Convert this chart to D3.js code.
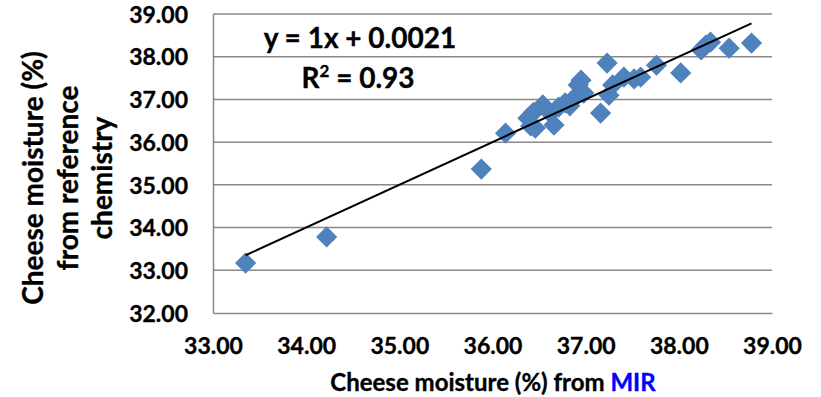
<!DOCTYPE html>
<html><head><meta charset="utf-8">
<script src="https://cdn.jsdelivr.net/npm/d3@7"></script>
<style>body{margin:0;background:#fff}svg{display:block}text{font-family:Lato,"Open Sans",sans-serif;font-weight:bold;fill:#000;stroke:#000;stroke-width:0.35px}</style>
</head><body><svg id="c" width="821" height="397"></svg>
<script>
const xMIR = [33.35,34.22,35.88,36.14,36.38,36.41,36.44,36.46,36.54,36.62,36.66,36.71,36.78,36.83,36.89,36.92,36.95,36.98,37.16,37.23,37.25,37.29,37.41,37.52,37.59,37.76,38.02,38.24,38.29,38.34,38.54,38.78];
const yRef = [33.17,33.78,35.37,36.21,36.56,36.38,36.70,36.33,36.87,36.68,36.40,36.82,36.92,36.85,37.06,37.34,37.45,37.15,36.68,37.85,37.10,37.34,37.52,37.48,37.52,37.80,37.62,38.16,38.27,38.34,38.20,38.32];
const xTicks = [33,34,35,36,37,38,39];
const yTicks = [32,33,34,35,36,37,38,39];
const slope = 1, intercept = 0.0021;
const eqText = "y = 1x + 0.0021";
const r2Value = "0.93";
const xTitle = "Cheese moisture (%) from ";
const xTitleBlue = "MIR";
const yTitleLines = ["Cheese moisture (%)","from reference","chemistry"];

const svg = d3.select("#c");
const L=213,R=772,T=14,B=313;
const x = d3.scaleLinear().domain([33,39]).range([L,R]);
const y = d3.scaleLinear().domain([32,39]).range([B,T]);

// gridlines
svg.append("g").selectAll("line").data(yTicks.slice(1)).join("line")
  .attr("x1",L).attr("x2",R).attr("y1",d=>y(d)).attr("y2",d=>y(d))
  .attr("stroke","#898989").attr("stroke-width",1.5);

// axes
const xa = svg.append("g").attr("transform",`translate(0,${B})`)
  .call(d3.axisBottom(x).tickValues(xTicks).tickFormat(d3.format(".2f")).tickSize(0));
const ya = svg.append("g").attr("transform",`translate(${L},0)`)
  .call(d3.axisLeft(y).tickValues(yTicks).tickFormat(d3.format(".2f")).tickSize(0).tickPadding(25));
[xa,ya].forEach(a=>{a.select(".domain").attr("stroke","#898989").attr("stroke-width",1.5);
  a.selectAll("text").attr("font-size",23).attr("font-family","Lato").attr("font-weight","bold").attr("fill","#000");});
ya.selectAll("text").attr("dy","0.36em");
xa.selectAll("text").attr("y",41).attr("dy",0);

// points
svg.append("g").selectAll("path").data(xMIR.map((v,i)=>[v,yRef[i]])).join("path")
  .attr("d",d3.symbol(d3.symbolSquare,225)())
  .attr("transform",d=>`translate(${x(d[0])},${y(d[1])}) rotate(45)`)
  .attr("fill","#4f81bd");

// trendline
const xmin=d3.min(xMIR), xmax=d3.max(xMIR);
svg.append("line").attr("x1",x(xmin)).attr("y1",y(slope*xmin+intercept))
  .attr("x2",x(xmax)).attr("y2",y(slope*xmax+intercept))
  .attr("stroke","#000").attr("stroke-width",2);

// equation
svg.append("text").attr("x",360).attr("y",48).attr("text-anchor","middle").attr("font-size",28).text(eqText);
const r2 = svg.append("text").attr("x",358).attr("y",88).attr("text-anchor","middle").attr("font-size",28);
r2.append("tspan").text("R");
r2.append("tspan").attr("font-size",17).attr("dy",-11).text("2");
r2.append("tspan").attr("dy",11).text(" = "+r2Value);

// x title
const xt = svg.append("text").attr("x",493).attr("y",391).attr("text-anchor","middle").attr("font-size",24);
xt.append("tspan").text(xTitle);
xt.append("tspan").style("fill","#0000ff").style("stroke","#0000ff").text(xTitleBlue);

// y title
const yt = svg.append("g").attr("transform","translate(0,178) rotate(-90)");
yTitleLines.forEach((t,i)=>{
  yt.append("text").attr("x",0).attr("y",43+i*34.5).attr("text-anchor","middle").attr("font-size",28).text(t);
});
</script></body></html>
